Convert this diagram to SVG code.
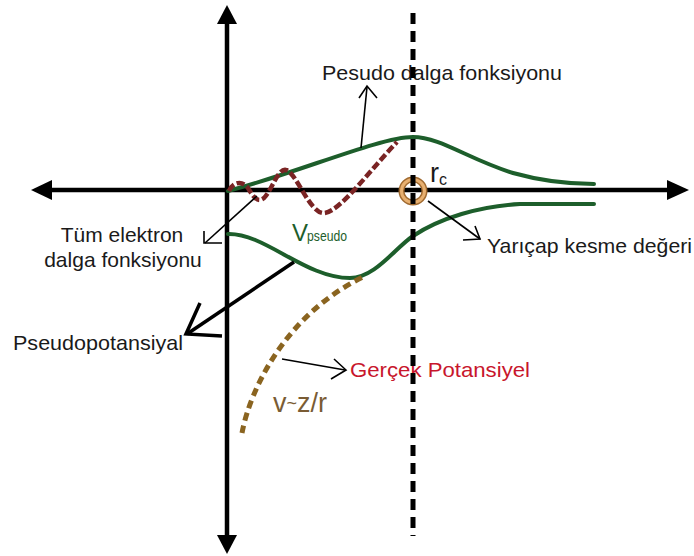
<svg xmlns="http://www.w3.org/2000/svg" width="694" height="556" viewBox="0 0 694 556">
<style>
text{font-family:"Liberation Sans",Arial,sans-serif}
.lbl{font-size:21px;fill:#1a1a1a}
.axis{stroke:#000;stroke-width:4.5;fill:none}
.green{stroke:#1d5e2b;stroke-width:4;fill:none;stroke-linecap:round}
.thin{stroke:#000;stroke-width:1.6;fill:none}
</style>
<rect width="694" height="556" fill="#fff"/>
<g id="axes">
<line class="axis" x1="50" y1="190" x2="670" y2="190"/>
<polygon points="31,190 52,180 52,200" fill="#000"/>
<polygon points="689,190 667,180 667,200" fill="#000"/>
<line class="axis" x1="227" y1="22" x2="227" y2="537"/>
<polygon points="227,5 217,24 237,24" fill="#000"/>
<polygon points="227,554 217,535 237,535" fill="#000"/>
</g>
<g id="pseudo-wave">
<path class="green" d="M228,191 C300,172 380,137 413,137 C440,137 470,160 513,173 C545,182 570,184 594,184"/>
</g>
<g id="all-electron-wave">
<path d="M229,191 C233,182 242,180 248,188 C254,198 258,203 264,198 C272,190 278,168 286,170 C296,172 310,214 324,213 C340,212 370,170 397,142" fill="none" stroke="#7a2424" stroke-width="4.5" stroke-dasharray="8,3"/>
</g>
<g id="v-pseudo">
<path class="green" d="M228,234 C265,233 305,278 350,278 C375,278 395,248 413,236 C440,218 480,206 520,204 L594,204"/>
<text x="292" y="241" font-size="24" fill="#1d5e2b">V</text>
<text x="307" y="241" font-size="15" fill="#1d5e2b" textLength="40" lengthAdjust="spacingAndGlyphs">pseudo</text>
</g>
<g id="real-potential">
<path d="M242,433 C250,390 285,315 363,277" fill="none" stroke="#8a6420" stroke-width="5" stroke-dasharray="8,5"/>
<text x="273" y="412" font-size="27" fill="#7a5c34">v<tspan font-size="18" dy="-3">~</tspan><tspan dy="3">z/r</tspan></text>
</g>
<g id="cutoff">
<circle cx="413" cy="191" r="11.5" fill="none" stroke="#a06a30" stroke-width="6"/>
<circle cx="413" cy="191" r="11.5" fill="none" stroke="#e8b070" stroke-width="3"/>
<text x="430" y="182" font-size="27" fill="#1a1a1a">r</text>
<text x="439" y="185" font-size="16" fill="#1a1a1a">c</text>
</g>
<g id="labels">
<text class="lbl" x="322" y="80" textLength="240" lengthAdjust="spacingAndGlyphs">Pesudo dalga fonksiyonu</text>
<text class="lbl" x="122" y="242" text-anchor="middle">Tüm elektron</text>
<text class="lbl" x="123" y="267" text-anchor="middle">dalga fonksiyonu</text>
<text class="lbl" x="13" y="350" textLength="170" lengthAdjust="spacingAndGlyphs">Pseudopotansiyal</text>
<text class="lbl" x="487" y="253" textLength="205" lengthAdjust="spacingAndGlyphs">Yarıçap kesme değeri</text>
<text x="350" y="377" font-size="21" fill="#c8162c" textLength="180" lengthAdjust="spacingAndGlyphs">Gerçek Potansiyel</text>
</g>
<g id="connectors">
<line class="thin" x1="361" y1="148" x2="367" y2="87"/>
<polyline class="thin" points="359,98 367,86 377,98"/>
<line class="thin" x1="257" y1="196" x2="205" y2="243"/>
<polyline class="thin" points="204,231 204,243 222,243"/>
<line x1="294" y1="262" x2="187" y2="334" stroke="#000" stroke-width="3.5"/>
<polyline points="200,303 186,334 222,336" fill="none" stroke="#000" stroke-width="3.5"/>
<line class="thin" x1="428" y1="201" x2="480" y2="239"/>
<polyline class="thin" points="475,226 480,239 463,240"/>
<line class="thin" x1="282" y1="359" x2="345" y2="370"/>
<polyline class="thin" points="334,359 346,370 331,379"/>
</g>
<g id="cutoff-line">
<line x1="413" y1="13" x2="413" y2="536" stroke="#000" stroke-width="5" stroke-dasharray="11,7"/>
</g>
</svg>
